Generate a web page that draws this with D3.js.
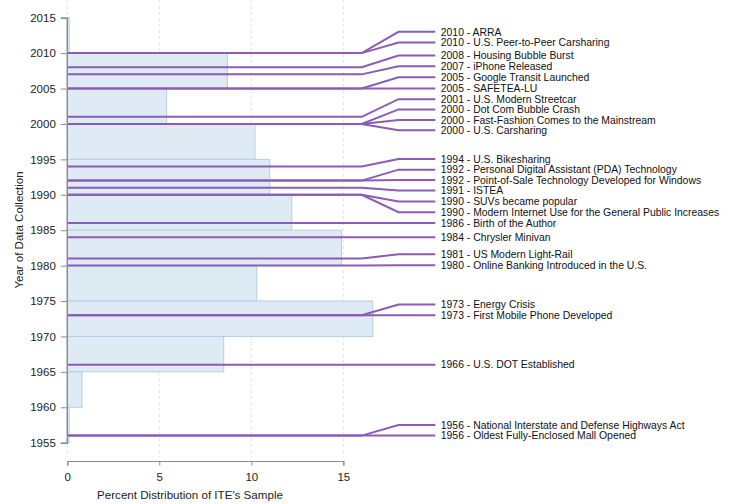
<!DOCTYPE html>
<html>
<head>
<meta charset="utf-8">
<script src="https://cdn.jsdelivr.net/npm/d3@7"></script>
<style>
  body { margin: 0; background: #fff; }
  svg { font-family: "Liberation Sans", Arial, sans-serif; }
</style>
</head>
<body>
<div id="chart"></div>
<script>
// 5-year bins of the ITE sample (start year of each bin) and their share in percent
const binStarts = [2010, 2005, 2000, 1995, 1990, 1985, 1980, 1975, 1970, 1965, 1960, 1955];
const binPercents = [0.1, 8.7, 5.4, 10.2, 11.0, 12.2, 14.9, 10.3, 16.6, 8.5, 0.8, 0.1];

// timeline events: year, text, and the year where ggrepel-like label ended up
const eventYears = [2010, 2010, 2008, 2007, 2005, 2005, 2001, 2000, 2000, 2000,
  1994, 1992, 1992, 1991, 1990, 1990, 1986, 1984, 1981, 1980, 1973, 1973, 1966, 1956, 1956];
const eventNames = [
  "ARRA", "U.S. Peer-to-Peer Carsharing", "Housing Bubble Burst", "iPhone Released",
  "Google Transit Launched", "SAFETEA-LU", "U.S. Modern Streetcar", "Dot Com Bubble Crash",
  "Fast-Fashion Comes to the Mainstream", "U.S. Carsharing", "U.S. Bikesharing",
  "Personal Digital Assistant (PDA) Technology", "Point-of-Sale Technology Developed for Windows",
  "ISTEA", "SUVs became popular", "Modern Internet Use for the General Public Increases",
  "Birth of the Author", "Chrysler Minivan", "US Modern Light-Rail",
  "Online Banking Introduced in the U.S.", "Energy Crisis", "First Mobile Phone Developed",
  "U.S. DOT Established", "National Interstate and Defense Highways Act",
  "Oldest Fully-Enclosed Mall Opened"];
const labelYears = [2013.0, 2011.5, 2009.65, 2008.15, 2006.6, 2005.0, 2003.5, 2002.05, 2000.55, 1999.1,
  1995.05, 1993.55, 1992.1, 1990.6, 1989.05, 1987.55, 1986.0, 1984.0, 1981.6, 1980.05,
  1974.5, 1973.0, 1966.0, 1957.5, 1956.0];

const xTicks = [0, 5, 10, 15];
const yTicks = [1955, 1960, 1965, 1970, 1975, 1980, 1985, 1990, 1995, 2000, 2005, 2010, 2015];

const width = 745, height = 504;
const binWidth = 5;

const svg = d3.select("#chart").append("svg")
  .attr("width", width)
  .attr("height", height);

const xScale = d3.scaleLinear().domain([0, 15]).range([67.3, 343.3]);
const yScale = d3.scaleLinear().domain([1955, 2015]).range([442.7, 17.7]);

//Dashed vertical gridlines
svg.append("g").selectAll("line")
  .data(xTicks)
  .join("line")
  .attr("x1", d => xScale(d)).attr("x2", d => xScale(d))
  .attr("y1", 0).attr("y2", 457)
  .attr("stroke", "#dcdcdc")
  .attr("stroke-width", 0.8)
  .attr("stroke-dasharray", "3,3");

//Histogram bars
svg.append("g").selectAll("rect")
  .data(binStarts.map((start, i) => ({start: start, pct: binPercents[i]})))
  .join("rect")
  .attr("x", xScale(0))
  .attr("y", d => yScale(d.start + binWidth))
  .attr("width", d => xScale(d.pct) - xScale(0))
  .attr("height", d => yScale(d.start) - yScale(d.start + binWidth))
  .attr("fill", "#deeaf4")
  .attr("stroke", "#b7cde5")
  .attr("stroke-width", 1);

//Event lines with a dog-leg to the label
const events = eventYears.map((year, i) => ({year: year, name: eventNames[i], labelYear: labelYears[i]}));
const eventLine = d => d3.line()([
  [xScale(0), yScale(d.year)],
  [xScale(16), yScale(d.year)],
  [xScale(18), yScale(d.labelYear)],
  [xScale(20), yScale(d.labelYear)]
]);
svg.append("g").selectAll("path")
  .data(events)
  .join("path")
  .attr("d", eventLine)
  .attr("fill", "none")
  .attr("stroke", "#8b5bb5")
  .attr("stroke-width", 2);

svg.append("g").selectAll("text")
  .data(events)
  .join("text")
  .attr("x", xScale(20) + 5.5)
  .attr("y", d => yScale(d.labelYear))
  .attr("dy", "0.35em")
  .style("font-size", "10.4px")
  .attr("fill", "#111")
  .text(d => d.year + " - " + d.name);

//Y axis
const yAxis = svg.append("g")
  .attr("transform", "translate(" + (xScale(0) - 0.5) + ",0)")
  .call(d3.axisLeft(yScale).tickValues(yTicks).tickFormat(d3.format("d")).tickSize(6).tickPadding(5))
  .style("font-size", "11.5px")
  .style("font-family", "Liberation Sans, Arial, sans-serif");
yAxis.select(".domain").attr("stroke", "#8c8c8c").attr("stroke-width", 1.4);
yAxis.selectAll(".tick line").attr("stroke", "#8c8c8c");
yAxis.selectAll(".tick text").attr("fill", "#222");

//X axis
const xAxis = svg.append("g")
  .attr("transform", "translate(0,461)")
  .call(d3.axisBottom(xScale).tickValues(xTicks).tickSize(4.5).tickPadding(7))
  .style("font-size", "11.5px")
  .style("font-family", "Liberation Sans, Arial, sans-serif");
xAxis.select(".domain").attr("stroke", "#8c8c8c").attr("stroke-width", 1.2);
xAxis.selectAll(".tick line").attr("stroke", "#8c8c8c");
xAxis.selectAll(".tick text").attr("fill", "#222");

//Axis titles
svg.append("text")
  .attr("x", 190)
  .attr("y", 495)
  .attr("dy", "0.35em")
  .style("text-anchor", "middle")
  .style("font-size", "11.6px")
  .attr("fill", "#222")
  .text("Percent Distribution of ITE's Sample");

svg.append("text")
  .attr("transform", "translate(19,230) rotate(-90)")
  .attr("dy", "0.35em")
  .style("text-anchor", "middle")
  .style("font-size", "11.5px")
  .attr("fill", "#222")
  .text("Year of Data Collection");
</script>
</body>
</html>
